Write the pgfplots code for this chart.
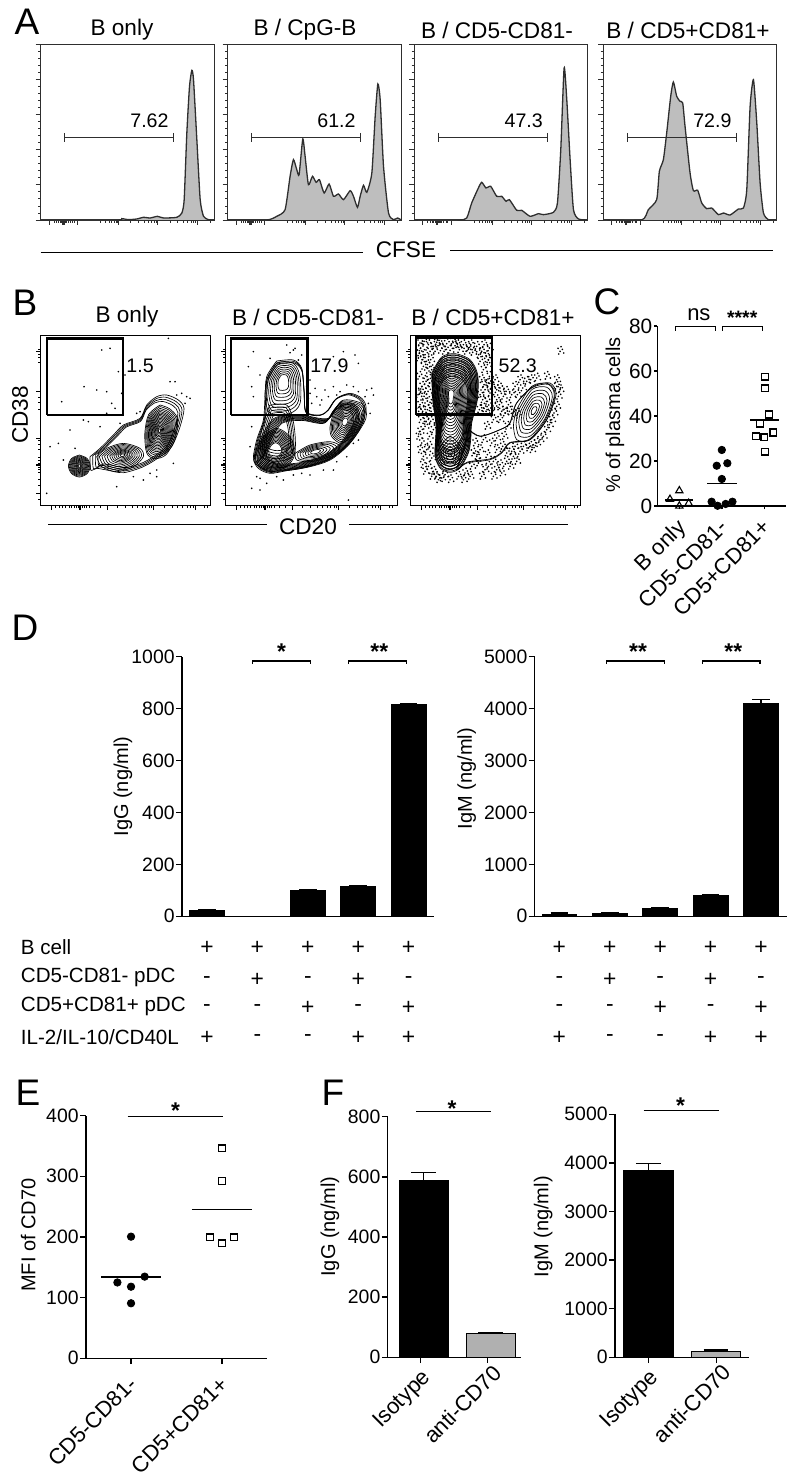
\documentclass[border=0pt]{standalone}
\usepackage{fontspec}
\setmainfont{Liberation Sans}
\usepackage{pgfplots}
\usepackage{pgfplotstable}
\pgfplotsset{compat=1.18}

% 1 px of the reference = 0.5pt
\def\u{0.5pt}
\def\ftT{\fontsize{9.7}{11}\selectfont}
\def\ftC{\fontsize{10.4}{12}\selectfont}
\def\ftL{\fontsize{11.8}{13}\selectfont}
\def\ftX{\fontsize{11}{13}\selectfont}
\def\ftH{\fontsize{11.3}{13}\selectfont}
\def\ftN{\fontsize{9.8}{12}\selectfont}
\def\ftS{\fontsize{11.4}{12}\selectfont}
\def\ftP{\fontsize{18.5}{20}\selectfont}
\def\ftR{\fontsize{10.3}{12}\selectfont}

\definecolor{histfill}{HTML}{BEBEBE}
\definecolor{histline}{HTML}{2E2E2E}
\definecolor{barg}{HTML}{B0B0B0}

\pgfplotsset{
  pos/.style 2 args={at={(#1*\u,{(1472-#2)*\u})}},
  flowhist/.style={
    scale only axis,width=173.5*\u,height=175.3*\u,
    xmin=0,xmax=520,ymin=0,ymax=526,
    clip=false,axis line style={line width=0.6pt,histline},
    tick align=outside,xtick pos=bottom,ytick pos=left,
    xticklabels={},yticklabels={},
    tick style={line width=0.45pt,histline},
    major tick length=2.5pt,minor tick length=1.3pt,
    xtick={25,66,68,70,110,233,351,470},
    minor xtick={40,48,54,58,62,64,72,74,78,82,88,95,100,180,195,205,213,220,226,230,270,292,310,323,332,340,346,390,411,428,441,451,459,465,510},
    ytick={0,105.2,210.4,315.6,420.8,526},minor y tick num=4,
  },
  flowdot/.style={
    scale only axis,height=170*\u,
    ymin=0,ymax=510,clip=false,
    axis line style={line width=0.7pt,black},
    tick align=outside,xtick pos=bottom,ytick pos=left,
    xticklabels={},yticklabels={},
    tick style={line width=0.5pt,black},
    major tick length=2.2pt,minor tick length=1.2pt,
    xtick={33,116,118,120,200,338,463},
    minor xtick={45,55,65,75,85,92,100,106,112,124,130,138,146,160,180,230,255,275,290,305,315,325,332,370,395,410,425,440,450,458,490,500},
    ytick={37,120,122,124,202,342,462},
    minor ytick={20,60,80,100,108,115,128,135,145,170,185,195,290,310,325,430,445,455,470},
  },
  plain/.style={
    scale only axis,clip=false,enlargelimits=false,
    axis x line=bottom,axis y line=left,
    axis line style={-,line width=0.75pt},
    tick align=outside,major tick length=2.9pt,
    tick style={line width=0.75pt,black},
    xtick style={line width=0.75pt,black},
    minor tick num=0,
    ticklabel style={font=\ftT},
    label style={font=\ftL},
    /pgf/number format/assume math mode=true,
    /pgf/number format/1000 sep={},
    yticklabel style={inner xsep=0.6pt},
    xticklabel style={font=\ftX,rotate=45,anchor=north east,inner sep=1.5pt},
  },
  line/.style={black,line width=0.6pt,no markers},
  dots/.style={only marks,mark=*,mark size=0.17pt,mark options={draw=none,fill=black!50}},
  ring/.style={black,line width=0.33pt,no markers,smooth},
  gate/.style={black,line width=1.2pt,no markers,line join=miter},
  bkbar/.style={ybar,bar width=0.69,bar shift=0pt,fill=black,draw=black,
    error bars/y dir=plus,error bars/y explicit,
    error bars/error bar style={line width=0.6pt,black},
    error bars/error mark options={rotate=90,mark size=#1,line width=0.6pt,black}},
  bkbar/.default=4.4pt,
  pt circ/.style={only marks,mark=*,mark size=1.85pt,black},
  pt sq/.style={only marks,mark=square,mark size=1.7pt,black,mark options={line width=0.7pt}},
  pt tri/.style={only marks,mark=triangle,mark size=2.1pt,black,mark options={line width=0.55pt}},
}

% histogram traces (x, y in 3x pixels)
\pgfplotstableread{
x y
122 661
350 661
365 657
385 660
410 658
430 653
450 655
472 650
490 655
530 653
545 640
552 600
560 400
568 260
575 212
580 240
590 420
600 600
610 650
625 660
642 661
}\hA
\pgfplotstableread{
x y
683 661
800 661
830 650
855 630
870 530
880 480
890 510
897 525
908 418
915 470
925 555
937 530
948 548
958 540
972 580
987 553
1000 590
1015 583
1030 600
1050 573
1060 590
1072 623
1080 590
1090 557
1100 578
1115 520
1125 350
1133 253
1140 300
1150 500
1165 640
1180 660
1192 655
1203 661
}\hB
\pgfplotstableread{
x y
43 661
175 661
200 655
215 610
235 565
245 548
258 565
272 560
290 590
305 590
318 605
328 600
350 632
365 632
390 650
415 642
430 645
460 638
472 610
482 450
492 205
500 300
510 480
520 630
535 658
563 661
}\hC
\pgfplotstableread{
x y
610 661
725 661
745 630
770 600
778 515
790 480
800 400
812 290
820 247
830 290
840 305
848 310
855 380
870 520
880 573
893 572
905 610
920 627
935 625
955 645
970 640
990 646
1015 628
1030 625
1040 570
1050 320
1060 240
1070 370
1080 550
1090 640
1105 660
1130 661
}\hD

% contour outlines, panel B (closed: last row = first row)
\pgfplotstableread{
x y
238 525
261 535
271 558
261 581
238 591
215 581
205 558
215 535
238 525
}\cAa
\pgfplotstableread{
x y
270 530
300 505
340 465
370 435
420 415
440 375
470 350
500 345
535 360
552 385
540 440
515 500
480 530
430 560
370 578
320 570
290 565
272 570
270 530
}\cAb
\pgfplotstableread{
x y
480 385
505 395
525 420
520 470
495 515
465 525
445 510
440 460
450 410
480 385
}\cAc
\pgfplotstableread{
x y
290 530
320 505
370 490
420 505
430 530
400 560
350 575
305 560
290 530
}\cAd
\pgfplotstableread{
x y
830 243
880 240
905 265
912 330
918 395
960 405
985 390
1010 355
1050 340
1085 355
1098 385
1080 445
1040 500
990 540
930 560
860 572
810 580
775 565
760 535
770 480
790 420
795 350
800 290
830 243
}\cBa
\pgfplotstableread{
x y
800 300
830 250
880 250
900 290
900 370
870 400
810 400
795 350
800 300
}\cBb
\pgfplotstableread{
x y
810 380
860 380
880 440
880 520
830 540
780 520
790 440
810 380
}\cBc
\pgfplotstableread{
x y
770 510
790 470
830 445
870 470
885 520
860 560
810 575
775 555
770 510
}\cBd
\pgfplotstableread{
x y
1000 400
1030 370
1065 375
1080 410
1060 460
1025 490
995 470
990 440
1000 400
}\cBe
\pgfplotstableread{
x y
885 520
930 495
990 485
1020 500
990 530
930 545
890 540
885 520
}\cBf
\pgfplotstableread{
x y
790 480
830 420
900 410
980 420
1020 370
1075 380
1085 420
1040 490
980 535
900 560
820 565
775 540
790 480
}\cBg
\pgfplotstableread{
x y
95 280
125 232
165 222
210 240
233 285
232 360
215 430
212 480
205 520
180 565
150 578
120 565
105 525
108 440
98 360
95 280
}\cCa
\pgfplotstableread{
x y
115 510
150 470
185 510
175 555
150 570
125 555
115 510
}\cCb
\pgfplotstableread{
x y
205 450
240 470
300 450
330 430
350 370
400 320
450 310
468 345
440 420
390 480
330 490
305 520
270 540
200 550
170 570
190 510
205 450
}\cCc
\pgfplotstableread{
x y
340 440
350 390
395 320
445 312
465 345
440 420
390 480
350 480
340 440
}\cCd

% single events, panel B
\pgfplotstableread{
x y
305 210
330 205
355 275
375 285
252 320
290 330
320 335
365 340
185 365
335 370
345 385
510 305
525 305
545 340
560 350
570 355
555 370
210 450
175 490
150 500
265 425
410 400
470 590
430 600
140 640
350 620
470 570
520 550
225 505
190 540
250 420
300 440
400 590
450 580
505 175
360 430
320 400
420 395
530 345
}\dA
\pgfplotstableread{
x y
760 215
860 195
885 205
905 225
880 210
895 240
870 218
745 260
780 285
760 350
755 320
810 235
930 340
950 350
975 330
1000 320
1020 335
1040 315
1060 320
1075 335
1100 330
1115 325
1120 345
1095 350
935 370
960 375
985 350
1010 345
930 300
945 325
1000 230
1065 225
1075 250
1030 215
965 360
920 320
925 355
1105 370
1110 400
755 440
750 500
755 560
770 590
800 610
780 630
755 625
830 590
880 585
930 585
970 570
1010 545
1040 530
1060 490
1075 480
1000 570
1045 660
780 595
850 600
905 580
1090 430
}\dB
\pgfplotstableread{
x y
55 235
62 205
70 260
58 290
75 225
85 195
92 240
66 320
80 280
54 345
72 350
88 310
60 375
82 390
94 360
68 395
90 215
100 200
110 188
125 205
140 192
150 212
165 198
178 210
190 195
205 205
218 218
230 200
245 215
258 228
240 245
250 270
262 255
245 300
268 290
255 330
240 345
262 365
250 385
270 340
238 390
275 320
285 300
300 325
290 360
310 350
283 385
305 395
325 375
335 345
345 320
360 300
380 305
410 295
440 290
470 300
480 215
62 420
75 440
88 470
65 490
80 510
95 535
70 530
85 560
100 575
60 455
92 425
108 590
125 595
150 600
175 590
195 580
215 560
235 550
255 570
280 545
300 555
220 520
240 510
262 525
225 490
300 420
315 400
280 420
470 320
475 350
470 380
455 420
440 450
420 480
400 495
370 500
345 500
320 520
340 530
360 515
385 505
305 580
330 560
280 590
350 545
60 190
72 185
58 220
68 240
82 255
95 270
78 305
62 335
84 335
75 370
56 395
92 385
105 215
118 190
132 215
158 185
172 195
198 215
212 195
236 225
252 195
265 240
268 205
252 315
265 310
248 360
272 385
258 395
290 330
298 375
318 335
328 395
352 345
368 325
392 300
352 400
340 410
322 440
312 470
290 475
260 440
275 490
250 480
230 530
245 590
265 560
210 590
190 600
135 585
115 600
95 590
75 575
60 510
55 470
78 425
100 450
68 555
88 500
395 510
410 490
430 470
448 435
462 400
480 330
290 510
308 500
335 515
290 570
320 545
}\dC

% plus/minus rows under panel D
\pgfplotstableread{
x y s
0 -113 +
1 -113 +
2 -113 +
3 -113 +
4 -113 +
0 -236 -
1 -236 +
2 -236 -
3 -236 +
4 -236 -
0 -344 -
1 -344 -
2 -344 +
3 -344 -
4 -344 +
0 -461 +
1 -461 -
2 -461 -
3 -461 +
4 -461 +
}\signs

% nested contours: one outline shrunk towards its core
\newcommand{\rings}[4]{%
  \pgfplotsinvokeforeach{#4}{%
    \addplot[ring] table[x expr={#2+##1*(\thisrow{x}-#2)-\lft},y expr={\btm-(#3+##1*(\thisrow{y}-#3))}] {#1};}}
\newcommand{\events}[3][dots]{%
  \addplot[#1] table[x expr={\thisrow{x}-\lft+#3},y expr={\btm-\thisrow{y}}] {#2};}
\newcommand{\histo}[5]{%
  \begin{axis}[flowhist,pos={#3}{220}]
    \addplot[fill=histfill,draw=histline,line width=0.65pt,smooth,tension=0.35] table[x expr={\thisrow{x}-#2},y expr={661-\thisrow{y}}] {#1};
    \addplot[histline,line width=0.75pt,mark=|,mark size=2.2pt,mark options={line width=0.7pt}] coordinates {(#4,248) (#4+327,248)};
    \node[font=\ftN] at (axis cs:#4+255,298) {#5};
  \end{axis}}
\newcommand{\signrows}[1]{%
  \addplot[only marks,mark=none,point meta=explicit symbolic,nodes near coords,
    nodes near coords align=center,every node near coord/.append style={font=\ftS,inner sep=0pt,yshift=-1pt}]
    table[x=x,y expr={\thisrow{y}*#1},meta=s] {\signs};}

\begin{document}
\begin{tikzpicture}
\path[use as bounding box] (0,0) rectangle (396.5pt,736pt);

% ---- A
\histo{\hA}{122}{40.7}{71}{7.62}
\histo{\hB}{683}{227.7}{71}{61.2}
\histo{\hC}{43}{414.3}{73}{47.3}
\histo{\hD}{610}{603.3}{72}{72.9}

% ---- B
\def\lft{122}\def\btm{677}
\begin{axis}[flowdot,width=170*\u,xmin=0,xmax=510,pos={40.7}{505.7}]
  \events{\dA}{0}
  \rings{\cAa}{238}{558}{1,.92,.84,.76,.68,.6,.52,.44,.36,.28,.2,.12}
  \rings{\cAb}{430}{475}{1,.95,.9,.85}
  \rings{\cAc}{478}{452}{1.15,1.08,1,.93,.86,.8,.74,.68,.62,.56,.5,.44,.38,.32,.26,.2,.14,.08}
  \rings{\cAd}{368}{525}{1,.9,.8,.7,.6,.5,.42,.34,.26,.18,.1}
  \addplot[gate] coordinates {(19,272) (246,272) (246,502) (19,502) (19,272)};
  \node[font=\ftN] at (axis cs:298,419) {1.5};
\end{axis}

\def\lft{677}
\begin{axis}[flowdot,width=171.7*\u,xmin=0,xmax=515,pos={225.7}{505.7}]
  \events{\dB}{0}
  \rings{\cBa}{910}{450}{1,.98,.96}
  \rings{\cBg}{930}{480}{1.08,1.05,1.02,.99,.96,.93,.9,.87,.84}
  \rings{\cBc}{835}{460}{1.05,.95,.85,.75,.65}
  \rings{\cBb}{850}{300}{1,.9,.8,.7,.6,.5,.4,.3}
  \rings{\cBd}{825}{510}{1,.94,.88,.82,.76,.7,.64,.58,.52,.46,.4,.34}
  \rings{\cBe}{1035}{425}{1,.92,.84,.76,.68,.6,.52,.44,.36,.28,.2}
  \rings{\cBf}{945}{515}{1,.87,.74,.61,.48,.35,.22}
  \addplot[gate] coordinates {(16,272) (245,272) (245,502) (16,502) (16,272)};
  \node[font=\ftN] at (axis cs:311,419) {17.9};
\end{axis}

\def\lft{32}\def\btm{678}
\begin{axis}[flowdot,width=170*\u,xmin=0,xmax=510,pos={410.7}{505.7}]
  % the cloud is far too dense to read dot by dot: the read dots, a few times over
  \events{\dC}{0}
  \addplot[dots] table[x expr={\thisrow{x}-\lft+7},y expr={\btm-\thisrow{y}+6}] {\dC};
  \addplot[dots] table[x expr={\thisrow{x}-\lft-6},y expr={\btm-\thisrow{y}+9}] {\dC};
  \addplot[dots] table[x expr={\thisrow{x}-\lft+11},y expr={\btm-\thisrow{y}-5}] {\dC};
  \addplot[dots] table[x expr={\thisrow{x}-\lft-4},y expr={\btm-\thisrow{y}-8}] {\dC};
  \addplot[dots] table[x expr={\thisrow{x}-\lft+3},y expr={\btm-\thisrow{y}+14}] {\dC};
  \rings{\cCa}{152}{345}{1,.96,.92,.88,.84,.8,.76,.72,.68,.64,.6,.56,.52,.48,.44,.4,.36,.32,.28,.24,.2,.16,.12}
  \rings{\cCa}{152}{400}{.98,.94,.9,.86,.82,.78,.74,.7,.66,.62}
  \rings{\cCb}{150}{520}{1,.8,.6,.4,.2}
  \rings{\cCc}{290}{450}{1,.97}
  \rings{\cCd}{402}{392}{1,.87,.74,.62,.5,.38,.26,.14}
  \addplot[gate] coordinates {(15,273) (243,273) (243,505) (15,505) (15,273)};
  \node[font=\ftN] at (axis cs:321,420) {52.3};
\end{axis}

% ---- C
\begin{axis}[plain,pos={657.3}{506},width=128.7*\u,height=180*\u,
    xmin=-0.518,xmax=2.51,ymin=0,ymax=80,xtick={0,1,2},
    major tick length=1.7pt,ticklabel style={font=\ftC},
    label style={font=\fontsize{12.4}{14}\selectfont},
    xticklabel style={font=\ftX,xshift=-2.5pt},
    xticklabels={B only,CD5-CD81-,CD5+CD81+},ytick={0,20,40,60,80},
    ylabel={\% of plasma cells},
    every axis y label/.style={at={(axis description cs:-0.329,0.505)},rotate=90,anchor=center}]
  \addplot[pt tri] coordinates {(-0.22,3) (0,6.8) (0,0) (0.22,1.2)};
  \addplot[line] coordinates {(-0.34,2.7) (0.33,2.7)};
  \addplot[pt circ] coordinates {(1,24.9) (0.88,17.9) (1.13,19) (1,12) (0.76,1.9) (0.9,0.1) (1.09,0.9) (1.25,1.9)};
  \addplot[line] coordinates {(0.66,9.9) (1.35,9.9)};
  \addplot[pt sq] coordinates {(2.02,57.5) (2.02,52.3) (2.11,40.7) (1.9,36.7) (1.8,31) (2,30.5) (2.21,32.7) (2.02,24.1)};
  \addplot[line] coordinates {(1.67,38.2) (2.35,38.2)};
  \addplot[line] coordinates {(-0.086,77.9) (-0.086,79.7) (0.855,79.7) (0.855,77.9)};
  \addplot[line] coordinates {(1.01,77.9) (1.01,79.7) (1.953,79.7) (1.953,77.9)};
  \node[font=\ftX] at (axis cs:0.46,84.8) {ns};
  \node[font=\bfseries\ftT] at (axis cs:1.48,83.6) {****};
\end{axis}

% ---- D
\begin{axis}[plain,pos={182}{916.3},width=252.3*\u,height=259.7*\u,
    xmin=-0.496,xmax=4.51,ymin=0,ymax=1000,xtick=\empty,ytick={0,200,...,1000},
    ylabel={IgG (ng/ml)},
    every axis y label/.style={at={(axis description cs:-0.234,0.5)},rotate=90,anchor=center}]
  \addplot[bkbar] coordinates {(0,21) +- (0,6) (2,99) +- (0,5) (3,114) +- (0,4) (4,816) +- (0,2)};
  \addplot[line] coordinates {(0.905,971) (0.905,983) (2.05,983) (2.05,971)};
  \addplot[line] coordinates {(2.815,971) (2.815,983) (3.96,983) (3.96,971)};
  \node[font=\bfseries\ftS] at (axis cs:1.48,1018) {*};
  \node[font=\bfseries\ftS] at (axis cs:3.42,1018) {**};
  \signrows{1}
\end{axis}
\begin{axis}[plain,pos={534.7}{916.3},width=252*\u,height=259.7*\u,
    xmin=-0.49,xmax=4.51,ymin=0,ymax=5000,xtick=\empty,ytick={0,1000,...,5000},
    ylabel={IgM (ng/ml)},
    every axis y label/.style={at={(axis description cs:-0.27,0.53)},rotate=90,anchor=center}]
  \addplot[bkbar] coordinates {(0,40) +- (0,25) (1,58) +- (0,19) (2,154) +- (0,19) (3,404) +- (0,13) (4,4095) +- (0,77)};
  \addplot[line] coordinates {(0.94,4855) (0.94,4915) (2.08,4915) (2.08,4855)};
  \addplot[line] coordinates {(2.835,4855) (2.835,4915) (3.98,4915) (3.98,4855)};
  \node[font=\bfseries\ftS] at (axis cs:1.56,5090) {**};
  \node[font=\bfseries\ftS] at (axis cs:3.45,5090) {**};
  \signrows{5}
\end{axis}

% ---- E
\begin{axis}[plain,pos={86}{1358.3},width=181.3*\u,height=242.7*\u,
    xmin=-0.495,xmax=1.498,ymin=0,ymax=400,xtick={0,1},
    xticklabel style={font=\ftX,xshift=-3.5pt,yshift=-1pt},
    xticklabels={CD5-CD81-,CD5+CD81+},ytick={0,100,...,400},
    ylabel={MFI of CD70},
    every axis y label/.style={at={(axis description cs:-0.318,0.508)},rotate=90,anchor=center}]
  \addplot[pt circ] coordinates {(0,200.5) (-0.15,125) (0.15,134.6) (0,118) (0,90.7)};
  \addplot[line] coordinates {(-0.33,134) (0.33,134)};
  \addplot[pt sq] coordinates {(1,346) (1,292) (0.868,199.5) (1,189.6) (1.132,199.5)};
  \addplot[line] coordinates {(0.67,245) (1.33,245)};
  \addplot[line] coordinates {(-0.037,399) (1.015,399)};
  \node[font=\bfseries\ftS] at (axis cs:0.49,408) {*};
\end{axis}

% ---- F
\begin{axis}[plain,pos={387.7}{1357.3},width=133.3*\u,height=240.7*\u,
    xmin=-0.4925,xmax=1.4975,ymin=0,ymax=800,xtick={0,1},
    xticklabel style={font=\ftX,xshift=\ticknum*3pt},
    xticklabels={Isotype,anti-CD70},ytick={0,200,...,800},
    ylabel={IgG (ng/ml)},
    every axis y label/.style={at={(axis description cs:-0.433,0.543)},rotate=90,anchor=center}]
  \addplot[bkbar=6.2pt,bar width=0.73] coordinates {(0.045,589.5) +- (0,24.5)};
  \addplot[bkbar=6.2pt,bar width=0.73,fill=barg] coordinates {(1.045,80) +- (0,2)};
  \addplot[line] coordinates {(-0.07,816.6) (1.05,816.6)};
  \node[font=\bfseries\ftS] at (axis cs:0.47,826) {*};
\end{axis}
\begin{axis}[plain,pos={615}{1357.3},width=134.3*\u,height=243*\u,
    xmin=-0.49,xmax=1.485,ymin=0,ymax=5000,xtick={0,1},
    xticklabel style={font=\ftX,xshift=\ticknum*3.5pt},
    xticklabels={Isotype,anti-CD70},ytick={0,1000,...,5000},
    ylabel={IgM (ng/ml)},
    every axis y label/.style={at={(axis description cs:-0.534,0.537)},rotate=90,anchor=center}]
  \addplot[bkbar=6.2pt,bar width=0.725] coordinates {(0,3841) +- (0,151)};
  \addplot[bkbar=6.2pt,bar width=0.715,fill=barg] coordinates {(0.995,130) +- (0,21)};
  \addplot[line] coordinates {(-0.069,5075) (1.044,5075)};
  \node[font=\bfseries\ftS] at (axis cs:0.475,5170) {*};
\end{axis}

% ---- free text, in reference pixels
\begin{scope}[shift={(0,736pt)},x=\u,y=-\u]
  \node[font=\ftP] at (27,22) {A};
  \node[font=\ftP] at (25,303) {B};
  \node[font=\ftP] at (607,302) {C};
  \node[font=\ftP] at (25,628) {D};
  \node[font=\ftP] at (28,1093) {E};
  \node[font=\ftP] at (333,1093) {F};
  \node[font=\ftH] at (122,30) {B only};
  \node[font=\ftH] at (305,30) {B / CpG-B};
  \node[font=\ftH] at (497,30) {B / CD5-CD81-};
  \node[font=\ftH] at (688,30) {B / CD5+CD81+};
  \draw[line width=0.7pt] (40.7,252.5) -- (363,252.5);
  \node[font=\ftH] at (406,250) {CFSE};
  \draw[line width=0.7pt] (450,250.5) -- (773,250.5);
  \node[font=\ftH] at (127,317) {B only};
  \node[font=\ftH] at (308,317) {B / CD5-CD81-};
  \node[font=\ftH] at (493,317) {B / CD5+CD81+};
  \node[font=\ftH,rotate=90] at (20,415) {CD38};
  \draw[line width=0.7pt] (48,524.5) -- (267,524.5);
  \node[font=\ftH] at (308,527) {CD20};
  \draw[line width=0.7pt] (349,524.5) -- (568,524.5);
  \node[font=\ftR,anchor=west,inner sep=0pt] at (20.5,947) {B cell};
  \node[font=\ftR,anchor=west,inner sep=0pt] at (20.5,977) {CD5-CD81- pDC};
  \node[font=\ftR,anchor=west,inner sep=0pt] at (20.5,1006) {CD5+CD81+ pDC};
  \node[font=\ftR,anchor=west,inner sep=0pt] at (20.5,1037) {IL-2/IL-10/CD40L};
\end{scope}
\end{tikzpicture}
\end{document}
